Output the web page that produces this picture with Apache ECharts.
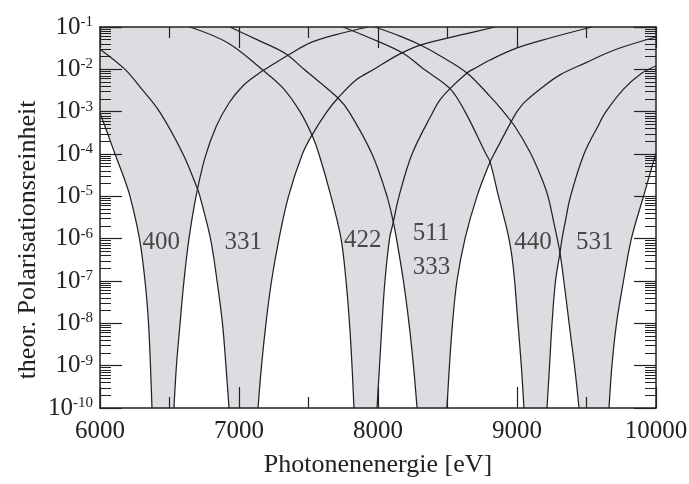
<!DOCTYPE html>
<html>
<head>
<meta charset="utf-8">
<script src="https://cdn.jsdelivr.net/npm/echarts@6/dist/echarts.min.js"></script>
<style>
  html, body { margin: 0; padding: 0; background: #fff; }
  #chart { width: 689px; height: 484px; }
</style>
</head>
<body>
<div id="chart"></div>
<script>
// Polarization purity of Si reflections vs. photon energy.
// Each branch: [photon energy in eV, polarization purity]; L = falling side, R = rising side.
const r400L = [[6000,9.3e-4],[6054,3.1e-4],[6108,1e-4],[6165,3.2e-5],[6216,1e-5],[6284,1e-6],[6324,1e-7],[6349,1e-8],[6363,1e-9],[6374,1e-10]];
const r400R = [[6532,1e-10],[6550,1e-9],[6576,1e-8],[6604,1e-7],[6640,1e-6],[6691,1e-5],[6755,8.1e-5],[6835,4.4e-4],[6928,1.6e-3],[7029,4.1e-3],[7137,7.8e-3],[7237,1.26e-2],[7367,2.3e-2],[7511,4.2e-2],[7691,6.5e-2],[7928,1e-1]];
const r331L = [[6000,3.0e-2],[6180,1e-2],[6295,3.6e-3],[6428,1e-3],[6597,1e-4],[6705,1.4e-5],[6719,1e-5],[6795,1e-6],[6842,1e-7],[6881,1e-8],[6906,1e-9],[6928,1e-10]];
const r331R = [[7137,1e-10],[7162,1e-9],[7194,1e-8],[7234,1e-7],[7288,1e-6],[7356,1e-5],[7456,1e-4],[7525,2.8e-4],[7633,1e-3],[7712,2.1e-3],[7842,5.6e-3],[7971,1e-2],[8144,2.2e-2],[8309,3.8e-2],[8597,6.5e-2],[8842,1e-1]];
const r422L = [[6647,1e-1],[6921,4.2e-2],[7165,1e-2],[7317,3.6e-3],[7439,1e-3],[7525,2.8e-4],[7575,1e-4],[7662,1e-5],[7734,1e-6],[7770,1e-7],[7795,1e-8],[7813,1e-9],[7827,1e-10]];
const r422R = [[7993,1e-10],[8011,1e-9],[8029,1e-8],[8050,1e-7],[8083,1e-6],[8108,2.3e-6],[8151,1e-5],[8245,1e-4],[8396,1e-3],[8446,1.9e-3],[8518,3.5e-3],[8640,8.2e-3],[8683,1e-2],[8806,1.66e-2],[9000,3.2e-2],[9237,5.5e-2],[9539,1e-1]];
const r511L = [[6935,1e-1],[7137,4.9e-2],[7331,2.4e-2],[7468,1e-2],[7712,2.1e-3],[7791,1e-3],[7957,1e-4],[8065,1e-5],[8112,2.3e-6],[8133,1e-6],[8183,1e-7],[8223,1e-8],[8255,1e-9],[8281,1e-10]];
const r511R = [[8496,1e-10],[8514,1e-9],[8536,1e-8],[8568,1e-7],[8626,1e-6],[8712,1e-5],[8806,6.5e-5],[8835,1e-4],[8964,6.3e-4],[9000,1e-3],[9057,1.7e-3],[9165,3.4e-3],[9309,7.4e-3],[9489,1.4e-2],[9705,2.9e-2],[10000,5.8e-2]];
const r440L = [[7748,1e-1],[7942,5.5e-2],[8180,2.4e-2],[8331,1e-2],[8518,3.5e-3],[8626,1e-3],[8777,1e-4],[8806,6.5e-5],[8867,1e-5],[8917,2.3e-6],[8942,1e-6],[8964,3.7e-7],[8983,1e-7],[9007,1e-8],[9031,1e-9],[9050,1e-10]];
const r440R = [[9216,1e-10],[9234,1e-9],[9252,1e-8],[9277,1e-7],[9309,4.6e-7],[9324,1e-6],[9345,2.3e-6],[9385,1e-5],[9482,1e-4],[9583,4.6e-4],[9640,1e-3],[9770,3.5e-3],[9899,8.2e-3],[10000,1.2e-2]];
const r531L = [[7978,1e-1],[8158,6.1e-2],[8302,3.8e-2],[8446,2.1e-2],[8640,8.2e-3],[8806,2.3e-3],[8892,1.1e-3],[8986,4.4e-4],[9094,1.1e-4],[9173,2.9e-5],[9223,1e-5],[9266,2.3e-6],[9309,4.6e-7],[9345,6.2e-8],[9381,6.9e-9],[9417,8e-10],[9446,1e-10]];
const r531R = [[9662,1e-10],[9683,1e-9],[9716,1e-8],[9766,1e-7],[9823,1e-6],[9910,1e-5],[10000,1.05e-4]];

// Reflection labels placed at [energy, purity]
const labelText = ['400', '331', '422', '511', '333', '440', '531'];
const labelE    = [6440, 7030, 7890, 8382, 8385, 9115, 9560];
const labelP    = [8.0e-7, 8.3e-7, 9.3e-7, 1.3e-6, 2.1e-7, 8.3e-7, 8.3e-7];

const branches = [
  [r400L, r400R], [r331L, r331R], [r422L, r422R],
  [r511L, r511R], [r440L, r440R], [r531L, r531R]
];

const SERIF = 'Liberation Serif';
const INK = '#222';
const SHADE = '#dcdde0';
const SMOOTH = 0.35;

const series = [];
branches.forEach(function (b) {
  // shaded band: everything above each branch up to the top of the axis
  b.forEach(function (branch) {
    series.push({
      type: 'line', data: branch, symbol: 'none', silent: true, z: 1, smooth: SMOOTH,
      lineStyle: { width: 0 },
      areaStyle: { color: SHADE, opacity: 1, origin: 'end' }
    });
  });
  // the dip between the two branches is shaded down to the axis
  series.push({
    type: 'line', data: [b[0][b[0].length - 1], b[1][0]], symbol: 'none', silent: true, z: 1,
    lineStyle: { width: 0 },
    areaStyle: { color: SHADE, opacity: 1, origin: 'end' }
  });
});
branches.forEach(function (b) {
  b.forEach(function (branch) {
    series.push({
      type: 'line', data: branch, symbol: 'none', silent: true, z: 3, smooth: SMOOTH,
      lineStyle: { color: INK, width: 1.25, join: 'round' }
    });
  });
});
series.push({
  type: 'scatter', z: 5, silent: true, symbolSize: 1,
  itemStyle: { color: 'rgba(0,0,0,0)' },
  data: labelText.map(function (t, i) { return { name: t, value: [labelE[i], labelP[i]] }; }),
  label: {
    show: true, position: 'inside', formatter: '{b}',
    fontFamily: SERIF, fontSize: 25, color: INK
  }
});

function xAxisCfg(pos, showLabel) {
  return {
    type: 'value', position: pos, min: 6000, max: 10000, interval: 1000, z: 10,
    axisLine: { show: true, onZero: false, lineStyle: { color: INK, width: 1.5 } },
    axisTick: { show: true, inside: true, length: 21, lineStyle: { color: INK, width: 1.2 } },
    minorTick: { show: true, splitNumber: 2, length: 11, lineStyle: { color: INK, width: 1.2 } },
    splitLine: { show: false },
    axisLabel: {
      show: showLabel, fontFamily: SERIF, fontSize: 25, color: INK, margin: 11,
      formatter: function (v) { return String(v); }
    },
    name: showLabel ? 'Photonenenergie [eV]' : '',
    nameLocation: 'middle', nameGap: 44,
    nameTextStyle: { fontFamily: SERIF, fontSize: 26, color: INK }
  };
}
function yAxisCfg(pos, showLabel) {
  return {
    type: 'log', logBase: 10, position: pos, min: 1e-10, max: 1e-1, splitNumber: 9, z: 10,
    axisLine: { show: true, onZero: false, lineStyle: { color: INK, width: 1.5 } },
    axisTick: { show: true, inside: true, length: 22, lineStyle: { color: INK, width: 1.2 } },
    minorTick: { show: true, splitNumber: 9, length: 11, lineStyle: { color: INK, width: 1 } },
    splitLine: { show: false },
    axisLabel: {
      show: showLabel, margin: 7,
      formatter: function (v) { return '{b|10}{s|' + Math.round(Math.log10(v)) + '}'; },
      rich: {
        b: { fontFamily: SERIF, fontSize: 25, color: INK, verticalAlign: 'bottom' },
        s: { fontFamily: SERIF, fontSize: 15, color: INK, verticalAlign: 'top' }
      }
    }
  };
}

const chart = echarts.init(document.getElementById('chart'), null, { renderer: 'canvas' });
chart.setOption({
  animation: false,
  backgroundColor: '#fff',
  grid: { left: 100, right: 33, top: 27, bottom: 76, containLabel: false, outerBoundsMode: 'none' },
  xAxis: [xAxisCfg('bottom', true), xAxisCfg('top', false)],
  yAxis: [yAxisCfg('left', true), yAxisCfg('right', false)],
  graphic: [{
    type: 'text', x: 28, y: 240, rotation: Math.PI / 2,
    style: {
      text: 'theor. Polarisationsreinheit', fill: INK,
      font: '26px "Liberation Serif"',
      textAlign: 'center', textVerticalAlign: 'middle', align: 'center', verticalAlign: 'middle'
    }
  }],
  series: series
});
</script>
</body>
</html>
